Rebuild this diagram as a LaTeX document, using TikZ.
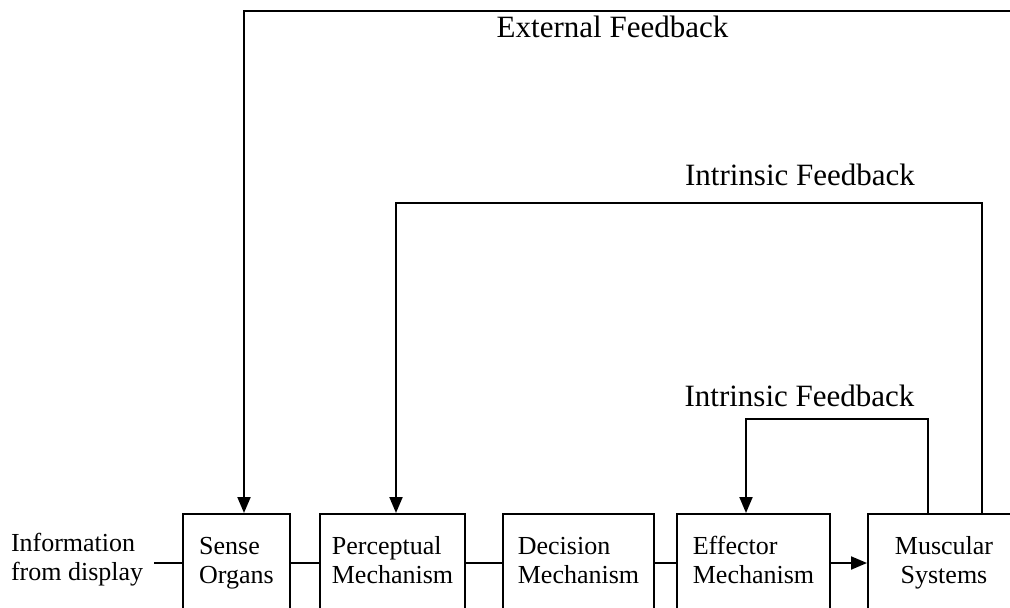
\documentclass[tikz,border=0pt]{standalone}
\usepackage{fontspec}
\setmainfont{Liberation Serif}
\usetikzlibrary{arrows.meta}

\begin{document}
\begin{tikzpicture}[x=0.5pt, y=0.5pt, line width=1pt,
    stage/.style={draw, rectangle, anchor=north, minimum height=49pt, inner xsep=2pt,
                  font=\fontsize{13}{14.5}\selectfont, align=left},
    fb/.style={-{Triangle[width=6.5pt,length=8pt]}},
    fblabel/.style={anchor=base, inner sep=0pt, font=\fontsize{15.5}{18}\selectfont}]

    % Frame
    \useasboundingbox (0,0) rectangle (1010,607);
    \clip (0,0) rectangle (1010,607);

    % Input text
    \node[anchor=west, inner xsep=5pt, inner ysep=0pt, align=left,
          font=\fontsize{13}{14.5}\selectfont] (info) at (0,47) {\strut Information\\\strut from display};

    % Processing stages
    \node[stage, minimum width=53.5pt] (sense) at (236.5,94) {\strut Sense\\\strut Organs};
    \node[stage, minimum width=72.5pt] (percep) at (392.5,94) {\strut Perceptual\\\strut Mechanism};
    \node[stage, minimum width=75.5pt] (decision) at (578.5,94) {\strut Decision\\\strut Mechanism};
    \node[stage, minimum width=76.5pt] (effector) at (753.5,94) {\strut Effector\\\strut Mechanism};
    \node[stage, minimum width=76pt, align=center] (muscular) at (944,94) {\strut Muscular\\\strut Systems};

    % Forward chain
    \draw (sense.west -| info.east) -- (sense.west);
    \draw (sense) -- (percep);
    \draw (percep) -- (decision);
    \draw (decision) -- (effector);
    \draw[fb] (effector) -- (muscular);

    % Feedback corners
    \coordinate (extR) at (1030,596);
    \coordinate (extL) at (244,596);
    \coordinate (intR) at (982,404);
    \coordinate (intL) at (396,404);
    \coordinate (effR) at (928,188);
    \coordinate (effL) at (746,188);

    % External feedback
    \draw[fb] (extR) -- (extL) -- (extL |- sense.north);
    \node[fblabel] (extlabel) at (612.5,570) {External Feedback};

    % Intrinsic feedback to perception
    \draw[fb] (intR |- muscular.north) -- (intR) -- (intL) -- (intL |- percep.north);
    \node[fblabel] (intlabel) at (800,422) {Intrinsic Feedback};

    % Intrinsic feedback to effector
    \draw[fb] (effR |- muscular.north) -- (effR) -- (effL) -- (effL |- effector.north);
    \node[fblabel] (efflabel) at (799.5,201) {Intrinsic Feedback};
\end{tikzpicture}
\end{document}
